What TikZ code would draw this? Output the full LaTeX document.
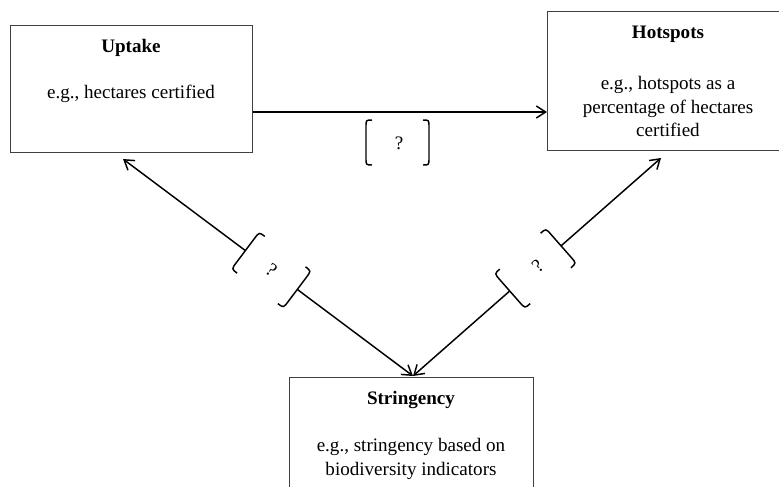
\documentclass[tikz,border=0pt]{standalone}
\usepackage{fontspec}
\setmainfont{Liberation Serif}
\usetikzlibrary{arrows.meta,calc}
\begin{document}
\begin{tikzpicture}[x=0.75pt,y=-0.75pt,
  box/.style={draw=black!75, line width=1.1pt, rectangle, anchor=north west, inner sep=0pt},
  ttl/.style={font=\fontsize{14.3}{17.6}\selectfont\bfseries, anchor=base, inner sep=0pt},
  bodytxt/.style={font=\fontsize{14.3}{17.6}\selectfont, align=center, anchor=base, inner sep=0pt},
  conn/.style={line width=1.1pt, -{Straight Barb[length=7pt,width=9pt]}},
  brk/.style={line width=1.1pt},
  qmark/.style={font=\fontsize{14.3}{17}\selectfont, inner sep=0pt}]
\useasboundingbox (0,0) rectangle (779,486);
\clip (0,0) rectangle (779,486);

% boxes
\node[box, minimum width=181.5pt, minimum height=95.25pt] (upt) at (10,25) {};
\node[box, minimum width=181.5pt, minimum height=104.25pt] (hot) at (547,11) {};
\node[box, minimum width=183pt, minimum height=97.5pt] (str) at (289,377) {};

% texts (base = baseline of last line)
\node[ttl] (uptT) at (131,52.3) {Uptake};
\node[bodytxt] (uptB) at (131,98.3) {e.g., hectares certified};
\node[ttl] (hotT) at (668,38.3) {Hotspots};
\node[bodytxt] (hotB) at (668,136.7) {e.g., hotspots as a\\percentage of hectares\\certified};
\node[ttl] (strT) at (411,404.3) {Stringency};
\node[bodytxt] (strB) at (411,475.3) {e.g., stringency based on\\biodiversity indicators};

% connector points
\coordinate (uTip) at (123,159);
\coordinate (hTip) at (661,158);
\coordinate (sTip) at (413,376);
\coordinate (hMid) at (400,112);

% horizontal arrow
\draw[conn] (upt.east |- hMid) -- (hot.west |- hMid);
\draw[brk] (372,120) .. controls (366,120) .. (366,127) -- (366,158) .. controls (366,165) .. (372,165);
\draw[brk] (423,120) .. controls (429,120) .. (429,127) -- (429,158) .. controls (429,165) .. (423,165);
\node[qmark] (q0) at (399,143) {?};

% left diagonal
\coordinate (b1) at ($(uTip)!0.422!(sTip)$);
\coordinate (b2) at ($(uTip)!0.601!(sTip)$);
\coordinate (q1) at ($(uTip)!0.512!(sTip)$);
\draw[conn] (b1) -- (uTip);
\draw[conn] (b2) -- (sTip);
\begin{scope}[shift={(b1)}, rotate=-36.9]
  \draw[brk] (7,-23) .. controls (0,-23) .. (0,-15) -- (0,15) .. controls (0,23) .. (7,23);
\end{scope}
\begin{scope}[shift={(b2)}, rotate=-36.9]
  \draw[brk] (-7,-23) .. controls (0,-23) .. (0,-15) -- (0,15) .. controls (0,23) .. (-7,23);
\end{scope}
\node[qmark, rotate=-36.9] (q1n) at (q1) {?};

% right diagonal
\coordinate (b3) at ($(hTip)!0.403!(sTip)$);
\coordinate (b4) at ($(hTip)!0.61!(sTip)$);
\coordinate (q2) at ($(hTip)!0.497!(sTip)$);
\draw[conn] (b3) -- (hTip);
\draw[conn] (b4) -- (sTip);
\begin{scope}[shift={(b3)}, rotate=41.3]
  \draw[brk] (-7,-23) .. controls (0,-23) .. (0,-15) -- (0,15) .. controls (0,23) .. (-7,23);
\end{scope}
\begin{scope}[shift={(b4)}, rotate=41.3]
  \draw[brk] (7,-23) .. controls (0,-23) .. (0,-15) -- (0,15) .. controls (0,23) .. (7,23);
\end{scope}
\node[qmark, rotate=41.3] (q2n) at (q2) {?};
\end{tikzpicture}
\end{document}
